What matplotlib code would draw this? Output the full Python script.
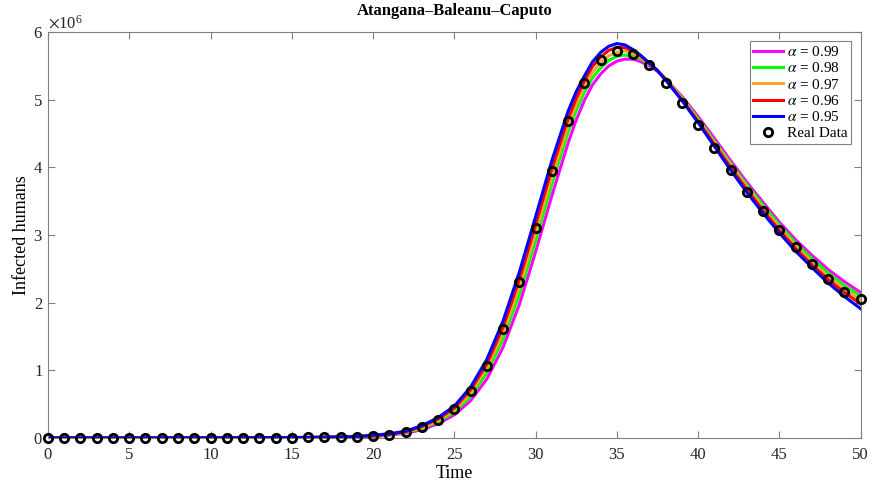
import numpy as np
import matplotlib.pyplot as plt
from matplotlib.ticker import ScalarFormatter

plt.rcParams['font.family'] = ['Liberation Serif', 'DejaVu Serif']
plt.rcParams['mathtext.fontset'] = 'stix'

# observed infected humans (millions), one value per day
days = list(range(0, 51))
real_data = [0.0, 0.0, 0.0, 0.0, 0.0, 0.0, 0.0, 0.0, 0.0, 0.0,
             0.0, 0.001, 0.001, 0.002, 0.003, 0.004, 0.006, 0.009, 0.013, 0.02,
             0.03, 0.05, 0.09, 0.16, 0.27, 0.43, 0.69, 1.07, 1.61, 2.30,
             3.11, 3.94, 4.69, 5.25, 5.58, 5.72, 5.67, 5.51, 5.25, 4.95,
             4.62, 4.29, 3.96, 3.64, 3.35, 3.07, 2.82, 2.57, 2.35, 2.15,
             2.06]

# model output (millions) for each fractional order
t_model = [0, 5, 10, 15, 17, 19, 20, 21, 22, 23, 24, 25, 26, 27, 28, 29, 30, 31, 32,
           32.5, 33, 33.5, 34, 34.5, 35, 35.5, 36, 36.5, 37, 37.5, 38,
           39, 40, 41, 42, 43, 44, 45, 46, 47, 48, 49, 50]

I_099 = [0.0, 0.0, 0.001, 0.004, 0.008, 0.015, 0.02, 0.04, 0.07, 0.12, 0.21, 0.34, 0.55, 0.87, 1.34, 1.97, 2.75, 3.58, 4.36,
         4.70, 4.99, 5.22, 5.38, 5.50, 5.57, 5.60, 5.60, 5.56, 5.50, 5.42, 5.31,
         5.05, 4.75, 4.43, 4.10, 3.78, 3.48, 3.19, 2.93, 2.70, 2.49, 2.31, 2.15]
I_098 = [0.0, 0.0, 0.001, 0.004, 0.009, 0.017, 0.025, 0.045, 0.08, 0.14, 0.24, 0.38, 0.61, 0.96, 1.46, 2.12, 2.91, 3.75, 4.52,
         4.84, 5.11, 5.32, 5.47, 5.58, 5.64, 5.66, 5.65, 5.60, 5.52, 5.43, 5.31,
         5.03, 4.72, 4.39, 4.06, 3.74, 3.44, 3.15, 2.88, 2.65, 2.44, 2.25, 2.10]
I_097 = [0.0, 0.0, 0.001, 0.004, 0.009, 0.018, 0.03, 0.05, 0.085, 0.15, 0.26, 0.41, 0.66, 1.03, 1.55, 2.23, 3.03, 3.86, 4.62,
         4.93, 5.19, 5.40, 5.55, 5.65, 5.70, 5.72, 5.69, 5.62, 5.53, 5.43, 5.31,
         5.02, 4.70, 4.37, 4.03, 3.71, 3.40, 3.11, 2.84, 2.60, 2.39, 2.20, 2.04]
I_096 = [0.0, 0.0, 0.001, 0.005, 0.01, 0.019, 0.03, 0.05, 0.09, 0.17, 0.28, 0.44, 0.71, 1.09, 1.64, 2.34, 3.15, 3.98, 4.72,
         5.02, 5.28, 5.49, 5.63, 5.73, 5.77, 5.77, 5.72, 5.64, 5.54, 5.43, 5.30,
         5.00, 4.68, 4.34, 4.00, 3.67, 3.36, 3.07, 2.80, 2.56, 2.34, 2.15, 1.98]
I_095 = [0.0, 0.0, 0.001, 0.005, 0.01, 0.02, 0.04, 0.06, 0.10, 0.18, 0.30, 0.47, 0.75, 1.16, 1.73, 2.45, 3.27, 4.10, 4.83,
         5.12, 5.35, 5.56, 5.70, 5.79, 5.83, 5.81, 5.74, 5.65, 5.54, 5.43, 5.29,
         4.99, 4.66, 4.31, 3.96, 3.63, 3.32, 3.03, 2.76, 2.52, 2.29, 2.09, 1.91]

orders = ['0.99', '0.98', '0.97', '0.96', '0.95']
curves = [I_099, I_098, I_097, I_096, I_095]
colors = ['#FF00FF', '#00FF00', '#F0A830', '#FF0000', '#0000FF']

fig = plt.figure(figsize=(8.72, 4.86), dpi=100)
ax = fig.add_axes([0.055, 0.099, 0.932, 0.835])

for order, vals, col in zip(orders, curves, colors):
    ax.plot(t_model, np.array(vals) * 1e6, color=col, lw=2.2, label=r'$\alpha$ = ' + order)
ax.plot(days, np.array(real_data) * 1e6, 'o', mfc='none', mec='black', mew=2.0, ms=6.0,
        label='Real Data', clip_on=False, zorder=5)

ax.set_xlim(0, 50)
ax.set_ylim(0, 6e6)
ax.set_xticks(range(0, 51, 5))
ax.set_yticks(np.arange(0, 7) * 1e6)
fmt = ScalarFormatter(useMathText=True)
fmt.set_powerlimits((0, 0))
ax.yaxis.set_major_formatter(fmt)
ax.yaxis.get_offset_text().set_fontsize(12)
ax.yaxis.get_offset_text().set_x(0.0)

for side in ['top', 'right', 'bottom', 'left']:
    ax.spines[side].set_color('#808080')
ax.tick_params(direction='in', top=True, right=True, length=5, width=0.8,
               colors='#808080', labelcolor='#262626', labelsize=12)
ax.tick_params(axis='x', pad=6.5)

ax.set_title('Atangana–Baleanu–Caputo', fontsize=12, fontweight='bold', pad=12)
ax.set_xlabel('Time', fontsize=13, labelpad=1.5)
ax.set_ylabel('Infected humans', fontsize=13, labelpad=2)

leg = ax.legend(loc='upper right', fontsize=11, fancybox=False, framealpha=1,
                edgecolor='#808080', labelspacing=0.15, handlelength=1.95,
                handletextpad=0.25, borderpad=0.25, borderaxespad=0.6)
leg.get_frame().set_linewidth(0.8)

fig.savefig('out.png', dpi=100)
plt.close(fig)
